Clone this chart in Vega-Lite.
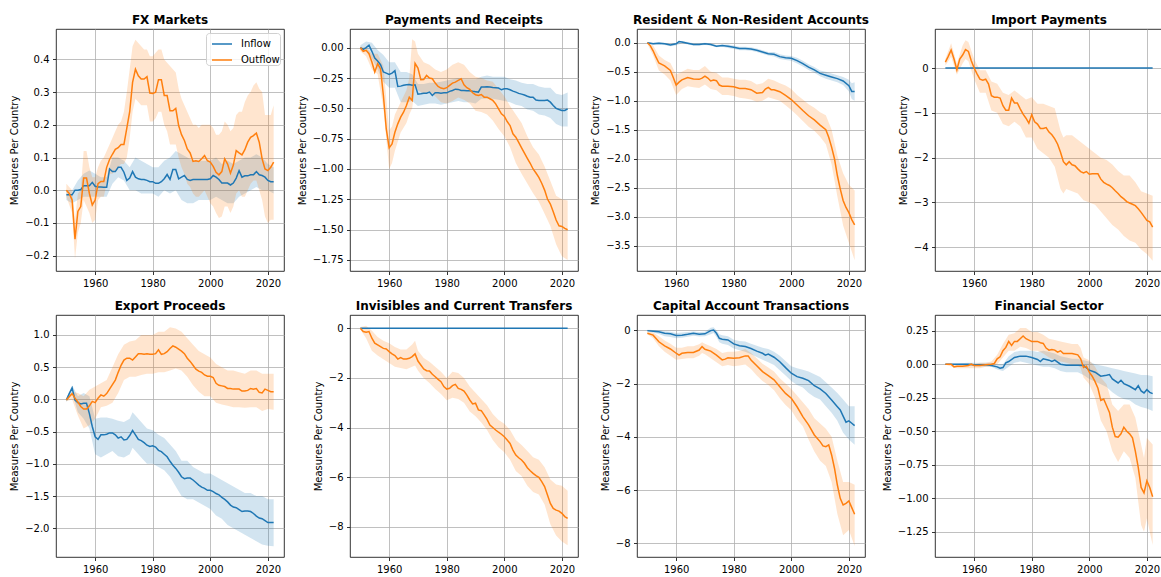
{
"$schema": "https://vega.github.io/schema/vega-lite/v6.json",
"padding": {"left": 9, "top": 13, "right": 0, "bottom": 0},
"data": {"values": [
{"p":"fx","x":1950,"a":-0.014,"al":-0.03,"ah":0,"b":0,"bl":-0.02,"bh":0.02},
{"p":"fx","x":1951,"a":-0.014,"b":-0.01},
{"p":"fx","x":1952,"a":-0.014,"al":-0.04,"ah":0,"b":-0.03,"bl":-0.07,"bh":0},
{"p":"fx","x":1953,"a":0,"b":-0.15,"bl":-0.21,"bh":-0.09},
{"p":"fx","x":1954,"a":0,"al":-0.03,"ah":0.03,"b":-0.065,"bl":-0.13,"bh":-0.01},
{"p":"fx","x":1955,"a":0.002,"b":-0.05,"bl":-0.1,"bh":0},
{"p":"fx","x":1956,"a":0.014,"al":-0.02,"ah":0.05,"b":0.037,"bl":-0.03,"bh":0.12},
{"p":"fx","x":1957,"a":0.014,"b":0.037,"bl":-0.05,"bh":0.12},
{"p":"fx","x":1958,"a":0.014,"al":-0.02,"ah":0.06,"b":-0.01,"bl":-0.07,"bh":0.07},
{"p":"fx","x":1959,"a":0.024,"b":-0.045,"bl":-0.1,"bh":0.04},
{"p":"fx","x":1960,"a":0.012,"al":-0.02,"ah":0.05,"b":-0.03,"bl":-0.09,"bh":0.04},
{"p":"fx","x":1961,"a":0.01,"b":0.02,"bl":-0.03,"bh":0.07},
{"p":"fx","x":1962,"a":0.01,"al":-0.02,"ah":0.04,"b":0.027,"bl":-0.02,"bh":0.09},
{"p":"fx","x":1963,"a":0.009,"b":0.027,"bl":-0.02,"bh":0.1},
{"p":"fx","x":1964,"a":0.009,"al":-0.02,"ah":0.04,"b":0.07,"bl":0.02,"bh":0.12},
{"p":"fx","x":1965,"a":0.065,"b":0.094,"bl":0.05,"bh":0.14},
{"p":"fx","x":1966,"a":0.057,"al":0.02,"ah":0.1,"b":0.11,"bl":0.05,"bh":0.16},
{"p":"fx","x":1967,"a":0.057,"b":0.125,"bl":0.06,"bh":0.18},
{"p":"fx","x":1968,"a":0.07,"al":0.04,"ah":0.1,"b":0.13,"bl":0.07,"bh":0.2},
{"p":"fx","x":1969,"a":0.07,"b":0.14,"bl":0.08,"bh":0.21},
{"p":"fx","x":1970,"a":0.055,"al":0.03,"ah":0.09,"b":0.14,"bl":0.08,"bh":0.24},
{"p":"fx","x":1971,"a":0.03,"b":0.19,"bl":0.1,"bh":0.3},
{"p":"fx","x":1972,"a":0.037,"al":0,"ah":0.07,"b":0.24,"bl":0.16,"bh":0.37},
{"p":"fx","x":1973,"a":0.057,"b":0.33,"bl":0.24,"bh":0.44},
{"p":"fx","x":1974,"a":0.04,"al":0,"ah":0.1,"b":0.37,"bl":0.28,"bh":0.46},
{"p":"fx","x":1975,"a":0.035,"b":0.35,"bl":0.27,"bh":0.45},
{"p":"fx","x":1976,"a":0.033,"al":-0.01,"ah":0.09,"b":0.34,"bl":0.26,"bh":0.44},
{"p":"fx","x":1977,"a":0.033,"b":0.34,"bl":0.26,"bh":0.43},
{"p":"fx","x":1978,"a":0.03,"al":-0.01,"ah":0.08,"b":0.347,"bl":0.26,"bh":0.43},
{"p":"fx","x":1979,"a":0.026,"b":0.297,"bl":0.21,"bh":0.41},
{"p":"fx","x":1980,"a":0.026,"al":-0.01,"ah":0.07,"b":0.296,"bl":0.21,"bh":0.41},
{"p":"fx","x":1981,"a":0.021,"b":0.3,"bl":0.22,"bh":0.42},
{"p":"fx","x":1982,"a":0.021,"al":-0.02,"ah":0.07,"b":0.338,"bl":0.24,"bh":0.43},
{"p":"fx","x":1983,"a":0.026,"b":0.338,"bl":0.24,"bh":0.43},
{"p":"fx","x":1984,"a":0.035,"al":0,"ah":0.09,"b":0.29,"bl":0.2,"bh":0.4},
{"p":"fx","x":1985,"a":0.048,"b":0.29,"bl":0.18,"bh":0.39},
{"p":"fx","x":1986,"a":0.033,"al":-0.01,"ah":0.1,"b":0.243,"bl":0.14,"bh":0.38},
{"p":"fx","x":1987,"a":0.063,"b":0.243,"bl":0.14,"bh":0.37},
{"p":"fx","x":1988,"a":0.063,"al":0,"ah":0.12,"b":0.25,"bl":0.14,"bh":0.36},
{"p":"fx","x":1989,"a":0.035,"b":0.198,"bl":0.1,"bh":0.31},
{"p":"fx","x":1990,"a":0.04,"al":-0.03,"ah":0.11,"b":0.17,"bl":0.07,"bh":0.28},
{"p":"fx","x":1991,"a":0.045,"b":0.152,"bl":0.05,"bh":0.26},
{"p":"fx","x":1992,"a":0.033,"al":-0.04,"ah":0.1,"b":0.126,"bl":0.02,"bh":0.24},
{"p":"fx","x":1993,"a":0.03,"b":0.114,"bl":0.01,"bh":0.22},
{"p":"fx","x":1994,"a":0.033,"al":-0.04,"ah":0.09,"b":0.088,"bl":-0.01,"bh":0.2},
{"p":"fx","x":1995,"a":0.033,"b":0.09,"bl":-0.02,"bh":0.2},
{"p":"fx","x":1996,"a":0.033,"al":-0.03,"ah":0.09,"b":0.088,"bl":-0.02,"bh":0.19},
{"p":"fx","x":1997,"a":0.033,"b":0.096,"bl":-0.01,"bh":0.2},
{"p":"fx","x":1998,"a":0.033,"al":-0.03,"ah":0.09,"b":0.106,"bl":0,"bh":0.2},
{"p":"fx","x":1999,"a":0.033,"b":0.09,"bl":-0.02,"bh":0.2},
{"p":"fx","x":2000,"a":0.035,"al":-0.03,"ah":0.09,"b":0.086,"bl":-0.04,"bh":0.2},
{"p":"fx","x":2001,"a":0.045,"b":0.073,"bl":-0.05,"bh":0.19},
{"p":"fx","x":2002,"a":0.04,"al":-0.02,"ah":0.1,"b":0.055,"bl":-0.07,"bh":0.17},
{"p":"fx","x":2003,"a":0.033,"b":0.047,"bl":-0.085,"bh":0.17},
{"p":"fx","x":2004,"a":0.022,"al":-0.03,"ah":0.08,"b":0.057,"bl":-0.08,"bh":0.18},
{"p":"fx","x":2005,"a":0.022,"b":0.096,"bl":-0.05,"bh":0.21},
{"p":"fx","x":2006,"a":0.022,"al":-0.04,"ah":0.09,"b":0.08,"bl":-0.05,"bh":0.2},
{"p":"fx","x":2007,"a":0.016,"b":0.052,"bl":-0.07,"bh":0.18},
{"p":"fx","x":2008,"a":0.022,"al":-0.04,"ah":0.08,"b":0.077,"bl":-0.05,"bh":0.19},
{"p":"fx","x":2009,"a":0.037,"b":0.121,"bl":-0.01,"bh":0.23},
{"p":"fx","x":2010,"a":0.06,"al":-0.02,"ah":0.09,"b":0.114,"bl":0,"bh":0.24},
{"p":"fx","x":2011,"a":0.04,"b":0.108,"bl":-0.02,"bh":0.24},
{"p":"fx","x":2012,"a":0.044,"al":-0.01,"ah":0.1,"b":0.124,"bl":-0.02,"bh":0.27},
{"p":"fx","x":2013,"a":0.044,"b":0.147,"bl":0,"bh":0.29},
{"p":"fx","x":2014,"a":0.047,"al":0,"ah":0.1,"b":0.162,"bl":0.02,"bh":0.3},
{"p":"fx","x":2015,"a":0.047,"b":0.167,"bl":0.03,"bh":0.32},
{"p":"fx","x":2016,"a":0.057,"al":0.01,"ah":0.11,"b":0.175,"bl":0.03,"bh":0.33},
{"p":"fx","x":2017,"a":0.047,"b":0.147,"bl":0,"bh":0.31},
{"p":"fx","x":2018,"a":0.045,"al":0,"ah":0.1,"b":0.096,"bl":-0.03,"bh":0.3},
{"p":"fx","x":2019,"a":0.04,"b":0.065,"bl":-0.08,"bh":0.23},
{"p":"fx","x":2020,"a":0.03,"al":0,"ah":0.08,"b":0.06,"bl":-0.1,"bh":0.23},
{"p":"fx","x":2021,"a":0.026,"b":0.07,"bl":-0.09,"bh":0.23},
{"p":"fx","x":2022,"a":0.026,"al":-0.01,"ah":0.07,"b":0.086,"bl":-0.09,"bh":0.26},

{"p":"pr","x":1950,"a":0,"al":-0.02,"ah":0.02,"b":0,"bl":-0.03,"bh":0.01},
{"p":"pr","x":1951,"a":-0.014,"b":-0.03},
{"p":"pr","x":1952,"a":0,"al":-0.03,"ah":0.05,"b":-0.022,"bl":-0.07,"bh":0},
{"p":"pr","x":1953,"a":0.02,"b":-0.05},
{"p":"pr","x":1954,"a":-0.03,"al":-0.09,"ah":0.04,"b":-0.118,"bl":-0.18,"bh":-0.05},
{"p":"pr","x":1955,"a":-0.085,"b":-0.2},
{"p":"pr","x":1956,"a":-0.11,"al":-0.18,"ah":-0.02,"b":-0.132,"bl":-0.22,"bh":-0.05},
{"p":"pr","x":1957,"a":-0.14,"b":-0.174},
{"p":"pr","x":1958,"a":-0.2,"al":-0.28,"ah":-0.06,"b":-0.394,"bl":-0.5,"bh":-0.15},
{"p":"pr","x":1959,"a":-0.21,"b":-0.67},
{"p":"pr","x":1960,"a":-0.22,"al":-0.33,"ah":-0.12,"b":-0.826,"bl":-1.0,"bh":-0.68},
{"p":"pr","x":1961,"a":-0.21,"b":-0.793,"bl":-0.95,"bh":-0.65},
{"p":"pr","x":1962,"a":-0.19,"al":-0.33,"ah":-0.12,"b":-0.697,"bl":-0.85,"bh":-0.55},
{"p":"pr","x":1963,"a":-0.32,"b":-0.628},
{"p":"pr","x":1964,"a":-0.317,"al":-0.45,"ah":-0.2,"b":-0.573,"bl":-0.7,"bh":-0.45},
{"p":"pr","x":1965,"a":-0.31,"b":-0.532},
{"p":"pr","x":1966,"a":-0.306,"al":-0.45,"ah":-0.2,"b":-0.477,"bl":-0.62,"bh":-0.35},
{"p":"pr","x":1967,"a":-0.303,"b":-0.408,"bl":-0.55,"bh":-0.25},
{"p":"pr","x":1968,"a":-0.31,"al":-0.44,"ah":-0.22,"b":-0.435,"bl":-0.5,"bh":0.07},
{"p":"pr","x":1969,"a":-0.306,"b":-0.13,"bl":-0.32,"bh":0.05},
{"p":"pr","x":1970,"a":-0.383,"al":-0.48,"ah":-0.3,"b":-0.168,"bl":-0.35,"bh":-0.05},
{"p":"pr","x":1971,"a":-0.38,"b":-0.264},
{"p":"pr","x":1972,"a":-0.375,"al":-0.47,"ah":-0.3,"b":-0.262,"bl":-0.38,"bh":-0.12},
{"p":"pr","x":1973,"a":-0.375,"b":-0.229},
{"p":"pr","x":1974,"a":-0.366,"al":-0.46,"ah":-0.29,"b":-0.25,"bl":-0.36,"bh":-0.14},
{"p":"pr","x":1975,"a":-0.394,"b":-0.256},
{"p":"pr","x":1976,"a":-0.372,"al":-0.46,"ah":-0.29,"b":-0.292,"bl":-0.4,"bh":-0.18},
{"p":"pr","x":1977,"a":-0.372,"b":-0.32},
{"p":"pr","x":1978,"a":-0.375,"al":-0.47,"ah":-0.28,"b":-0.333,"bl":-0.45,"bh":-0.2},
{"p":"pr","x":1979,"a":-0.372,"b":-0.339},
{"p":"pr","x":1980,"a":-0.372,"al":-0.46,"ah":-0.27,"b":-0.33,"bl":-0.46,"bh":-0.18},
{"p":"pr","x":1981,"a":-0.36,"b":-0.311},
{"p":"pr","x":1982,"a":-0.353,"al":-0.45,"ah":-0.26,"b":-0.292,"bl":-0.44,"bh":-0.14},
{"p":"pr","x":1983,"a":-0.342,"b":-0.284},
{"p":"pr","x":1984,"a":-0.344,"al":-0.44,"ah":-0.25,"b":-0.27,"bl":-0.41,"bh":-0.12},
{"p":"pr","x":1985,"a":-0.353,"b":-0.256},
{"p":"pr","x":1986,"a":-0.353,"al":-0.45,"ah":-0.26,"b":-0.306,"bl":-0.43,"bh":-0.14},
{"p":"pr","x":1987,"a":-0.355,"b":-0.33},
{"p":"pr","x":1988,"a":-0.355,"al":-0.45,"ah":-0.26,"b":-0.344,"bl":-0.46,"bh":-0.2},
{"p":"pr","x":1989,"a":-0.36,"b":-0.372},
{"p":"pr","x":1990,"a":-0.363,"al":-0.46,"ah":-0.26,"b":-0.388,"bl":-0.52,"bh":-0.24},
{"p":"pr","x":1991,"a":-0.366,"b":-0.394},
{"p":"pr","x":1992,"a":-0.325,"al":-0.42,"ah":-0.24,"b":-0.386,"bl":-0.53,"bh":-0.25},
{"p":"pr","x":1993,"a":-0.325,"b":-0.408},
{"p":"pr","x":1994,"a":-0.322,"al":-0.42,"ah":-0.23,"b":-0.408,"bl":-0.55,"bh":-0.27},
{"p":"pr","x":1995,"a":-0.325,"b":-0.421},
{"p":"pr","x":1996,"a":-0.328,"al":-0.42,"ah":-0.24,"b":-0.435,"bl":-0.6,"bh":-0.28},
{"p":"pr","x":1997,"a":-0.33,"b":-0.463},
{"p":"pr","x":1998,"a":-0.333,"al":-0.43,"ah":-0.24,"b":-0.504,"bl":-0.67,"bh":-0.34},
{"p":"pr","x":1999,"a":-0.347,"b":-0.545},
{"p":"pr","x":2000,"a":-0.339,"al":-0.44,"ah":-0.24,"b":-0.565,"bl":-0.73,"bh":-0.4},
{"p":"pr","x":2001,"a":-0.339,"b":-0.609},
{"p":"pr","x":2002,"a":-0.347,"al":-0.45,"ah":-0.26,"b":-0.642,"bl":-0.82,"bh":-0.48},
{"p":"pr","x":2003,"a":-0.358,"b":-0.71},
{"p":"pr","x":2004,"a":-0.366,"al":-0.47,"ah":-0.27,"b":-0.738,"bl":-0.95,"bh":-0.55},
{"p":"pr","x":2005,"a":-0.377,"b":-0.78},
{"p":"pr","x":2006,"a":-0.383,"al":-0.48,"ah":-0.29,"b":-0.826,"bl":-1.04,"bh":-0.62},
{"p":"pr","x":2007,"a":-0.39,"b":-0.87},
{"p":"pr","x":2008,"a":-0.4,"al":-0.51,"ah":-0.3,"b":-0.912,"bl":-1.12,"bh":-0.73},
{"p":"pr","x":2009,"a":-0.408,"b":-0.953},
{"p":"pr","x":2010,"a":-0.408,"al":-0.52,"ah":-0.3,"b":-1.0,"bl":-1.2,"bh":-0.82},
{"p":"pr","x":2011,"a":-0.432,"b":-1.033},
{"p":"pr","x":2012,"a":-0.435,"al":-0.55,"ah":-0.32,"b":-1.069,"bl":-1.27,"bh":-0.88},
{"p":"pr","x":2013,"a":-0.435,"b":-1.118},
{"p":"pr","x":2014,"a":-0.435,"al":-0.56,"ah":-0.33,"b":-1.174,"bl":-1.37,"bh":-0.98},
{"p":"pr","x":2015,"a":-0.432,"b":-1.248},
{"p":"pr","x":2016,"a":-0.449,"al":-0.58,"ah":-0.33,"b":-1.289,"bl":-1.47,"bh":-1.1},
{"p":"pr","x":2017,"a":-0.477,"b":-1.353},
{"p":"pr","x":2018,"a":-0.5,"al":-0.63,"ah":-0.38,"b":-1.421,"bl":-1.62,"bh":-1.22},
{"p":"pr","x":2019,"a":-0.51,"b":-1.468},
{"p":"pr","x":2020,"a":-0.518,"al":-0.65,"ah":-0.39,"b":-1.474,"bl":-1.72,"bh":-1.25},
{"p":"pr","x":2021,"a":-0.518,"b":-1.49},
{"p":"pr","x":2022,"a":-0.504,"al":-0.65,"ah":-0.37,"b":-1.501,"bl":-1.75,"bh":-1.26},

{"p":"rn","x":1950,"a":0,"al":-0.01,"ah":0.01,"b":0,"bl":-0.02,"bh":0},
{"p":"rn","x":1951,"b":-0.05},
{"p":"rn","x":1952,"a":-0.02,"al":-0.04,"ah":0,"b":-0.14,"bl":-0.22,"bh":-0.05},
{"p":"rn","x":1953,"b":-0.25},
{"p":"rn","x":1954,"a":-0.01,"al":-0.03,"ah":0.01,"b":-0.35,"bl":-0.48,"bh":-0.22},
{"p":"rn","x":1956,"a":-0.02,"al":-0.04,"ah":0,"b":-0.4,"bl":-0.55,"bh":-0.3},
{"p":"rn","x":1958,"a":-0.04,"al":-0.06,"ah":-0.02,"b":-0.48,"bl":-0.65,"bh":-0.35},
{"p":"rn","x":1959,"b":-0.6},
{"p":"rn","x":1960,"a":-0.02,"al":-0.05,"ah":0,"b":-0.73,"bl":-0.9,"bh":-0.55},
{"p":"rn","x":1961,"a":0.02,"b":-0.68},
{"p":"rn","x":1962,"a":0.01,"al":-0.01,"ah":0.03,"b":-0.64,"bl":-0.8,"bh":-0.5},
{"p":"rn","x":1964,"a":-0.01,"al":-0.03,"ah":0.01,"b":-0.6,"bl":-0.75,"bh":-0.45},
{"p":"rn","x":1966,"a":-0.03,"al":-0.05,"ah":-0.01,"b":-0.626,"bl":-0.77,"bh":-0.47},
{"p":"rn","x":1968,"a":-0.03,"al":-0.05,"ah":-0.01,"b":-0.632,"bl":-0.78,"bh":-0.47},
{"p":"rn","x":1969,"b":-0.61},
{"p":"rn","x":1970,"a":-0.02,"al":-0.04,"ah":0,"b":-0.575,"bl":-0.72,"bh":-0.4},
{"p":"rn","x":1971,"b":-0.61},
{"p":"rn","x":1972,"a":-0.03,"al":-0.05,"ah":-0.01,"b":-0.66,"bl":-0.8,"bh":-0.5},
{"p":"rn","x":1973,"b":-0.645},
{"p":"rn","x":1974,"a":-0.06,"al":-0.08,"ah":-0.04,"b":-0.655,"bl":-0.82,"bh":-0.52},
{"p":"rn","x":1975,"b":-0.73},
{"p":"rn","x":1976,"a":-0.05,"al":-0.07,"ah":-0.03,"b":-0.75,"bl":-0.9,"bh":-0.6},
{"p":"rn","x":1978,"a":-0.06,"al":-0.09,"ah":-0.03,"b":-0.75,"bl":-0.9,"bh":-0.6},
{"p":"rn","x":1980,"a":-0.08,"al":-0.11,"ah":-0.05,"b":-0.76,"bl":-0.92,"bh":-0.62},
{"p":"rn","x":1982,"a":-0.1,"al":-0.13,"ah":-0.07,"b":-0.79,"bl":-0.95,"bh":-0.64},
{"p":"rn","x":1984,"a":-0.1,"al":-0.13,"ah":-0.07,"b":-0.79,"bl":-0.96,"bh":-0.64},
{"p":"rn","x":1986,"a":-0.11,"al":-0.14,"ah":-0.08,"b":-0.81,"bl":-0.98,"bh":-0.66},
{"p":"rn","x":1988,"a":-0.13,"al":-0.16,"ah":-0.1,"b":-0.87,"bl":-1.02,"bh":-0.72},
{"p":"rn","x":1990,"a":-0.16,"al":-0.19,"ah":-0.13,"b":-0.86,"bl":-1.0,"bh":-0.7},
{"p":"rn","x":1991,"b":-0.8},
{"p":"rn","x":1992,"a":-0.19,"al":-0.22,"ah":-0.16,"b":-0.77,"bl":-0.94,"bh":-0.62},
{"p":"rn","x":1993,"b":-0.81},
{"p":"rn","x":1994,"a":-0.2,"al":-0.24,"ah":-0.16,"b":-0.81,"bl":-0.97,"bh":-0.65},
{"p":"rn","x":1996,"a":-0.24,"al":-0.28,"ah":-0.2,"b":-0.845,"bl":-1.0,"bh":-0.7},
{"p":"rn","x":1998,"a":-0.26,"al":-0.3,"ah":-0.22,"b":-0.91,"bl":-1.08,"bh":-0.74},
{"p":"rn","x":2000,"a":-0.27,"al":-0.31,"ah":-0.23,"b":-0.98,"bl":-1.16,"bh":-0.8},
{"p":"rn","x":2002,"a":-0.31,"al":-0.36,"ah":-0.26,"b":-1.075,"bl":-1.25,"bh":-0.9},
{"p":"rn","x":2004,"a":-0.36,"al":-0.41,"ah":-0.31,"b":-1.17,"bl":-1.35,"bh":-0.98},
{"p":"rn","x":2006,"a":-0.42,"al":-0.47,"ah":-0.37,"b":-1.26,"bl":-1.45,"bh":-1.06},
{"p":"rn","x":2008,"a":-0.47,"al":-0.52,"ah":-0.42,"b":-1.33,"bl":-1.52,"bh":-1.12},
{"p":"rn","x":2010,"a":-0.53,"al":-0.58,"ah":-0.48,"b":-1.42,"bl":-1.62,"bh":-1.2},
{"p":"rn","x":2012,"a":-0.56,"al":-0.62,"ah":-0.5,"b":-1.5,"bl":-1.75,"bh":-1.25},
{"p":"rn","x":2013,"b":-1.63},
{"p":"rn","x":2014,"a":-0.59,"al":-0.65,"ah":-0.53,"b":-1.8,"bl":-2.1,"bh":-1.5},
{"p":"rn","x":2015,"b":-2.0},
{"p":"rn","x":2016,"a":-0.62,"al":-0.68,"ah":-0.56,"b":-2.29,"bl":-2.65,"bh":-1.95},
{"p":"rn","x":2017,"b":-2.52},
{"p":"rn","x":2018,"a":-0.66,"al":-0.73,"ah":-0.59,"b":-2.72,"bl":-3.15,"bh":-2.25},
{"p":"rn","x":2019,"b":-2.84},
{"p":"rn","x":2020,"a":-0.74,"al":-0.84,"ah":-0.64,"b":-2.93,"bl":-3.45,"bh":-2.45},
{"p":"rn","x":2021,"a":-0.84,"al":-0.97,"ah":-0.7,"b":-3.05},
{"p":"rn","x":2022,"a":-0.84,"al":-1.0,"ah":-0.68,"b":-3.14,"bl":-3.75,"bh":-2.55},

{"p":"ip","x":1950,"a":0,"b":0.13,"bl":0.05,"bh":0.2},
{"p":"ip","x":1951,"b":0.26},
{"p":"ip","x":1952,"b":0.4,"bl":0.25,"bh":0.55},
{"p":"ip","x":1953,"b":0.2},
{"p":"ip","x":1954,"b":-0.04,"bl":-0.15,"bh":0.1},
{"p":"ip","x":1955,"b":0.2},
{"p":"ip","x":1956,"b":0.29,"bl":0.1,"bh":0.5},
{"p":"ip","x":1957,"b":0.41,"bl":0.2,"bh":0.62},
{"p":"ip","x":1958,"b":0.37,"bl":0.15,"bh":0.58},
{"p":"ip","x":1959,"b":0.16},
{"p":"ip","x":1960,"b":0,"bl":-0.25,"bh":0.2},
{"p":"ip","x":1961,"b":-0.13},
{"p":"ip","x":1962,"b":-0.25,"bl":-0.55,"bh":-0.05},
{"p":"ip","x":1963,"b":-0.27},
{"p":"ip","x":1964,"b":-0.25,"bl":-0.55,"bh":-0.05},
{"p":"ip","x":1965,"b":-0.36},
{"p":"ip","x":1966,"b":-0.62,"bl":-0.95,"bh":-0.3},
{"p":"ip","x":1967,"b":-0.65},
{"p":"ip","x":1968,"b":-0.65,"bl":-1.0,"bh":-0.35},
{"p":"ip","x":1969,"b":-0.67},
{"p":"ip","x":1970,"b":-0.84,"bl":-1.25,"bh":-0.55},
{"p":"ip","x":1971,"b":-0.94},
{"p":"ip","x":1972,"b":-0.94,"bl":-1.3,"bh":-0.6},
{"p":"ip","x":1973,"b":-0.67},
{"p":"ip","x":1974,"b":-0.78,"bl":-1.2,"bh":-0.5},
{"p":"ip","x":1975,"b":-0.78},
{"p":"ip","x":1976,"b":-0.91,"bl":-1.3,"bh":-0.6},
{"p":"ip","x":1977,"b":-1.03},
{"p":"ip","x":1978,"b":-1.12,"bl":-1.55,"bh":-0.7},
{"p":"ip","x":1979,"b":-1.23},
{"p":"ip","x":1980,"b":-1.04,"bl":-1.55,"bh":-0.65},
{"p":"ip","x":1981,"b":-1.2},
{"p":"ip","x":1982,"b":-1.25,"bl":-1.8,"bh":-0.8},
{"p":"ip","x":1983,"b":-1.35},
{"p":"ip","x":1984,"b":-1.35,"bl":-1.9,"bh":-0.8},
{"p":"ip","x":1985,"b":-1.33},
{"p":"ip","x":1986,"b":-1.43,"bl":-2.0,"bh":-0.85},
{"p":"ip","x":1987,"b":-1.49},
{"p":"ip","x":1988,"b":-1.58,"bl":-2.2,"bh":-0.9},
{"p":"ip","x":1989,"b":-1.7},
{"p":"ip","x":1990,"b":-1.88,"bl":-2.7,"bh":-1.4},
{"p":"ip","x":1991,"b":-2.09,"bl":-2.8,"bh":-1.55},
{"p":"ip","x":1992,"b":-2.16,"bl":-2.7,"bh":-1.5},
{"p":"ip","x":1993,"b":-2.09},
{"p":"ip","x":1994,"b":-2.16,"bl":-2.75,"bh":-1.5},
{"p":"ip","x":1995,"b":-2.18},
{"p":"ip","x":1996,"b":-2.25,"bl":-2.8,"bh":-1.6},
{"p":"ip","x":1997,"b":-2.31},
{"p":"ip","x":1998,"b":-2.34,"bl":-2.95,"bh":-1.7},
{"p":"ip","x":1999,"b":-2.31},
{"p":"ip","x":2000,"b":-2.37,"bl":-3.0,"bh":-1.8},
{"p":"ip","x":2001,"b":-2.36},
{"p":"ip","x":2002,"b":-2.36,"bl":-3.05,"bh":-1.9},
{"p":"ip","x":2003,"b":-2.36},
{"p":"ip","x":2004,"b":-2.48,"bl":-3.2,"bh":-2.0},
{"p":"ip","x":2005,"b":-2.55},
{"p":"ip","x":2006,"b":-2.59,"bl":-3.35,"bh":-2.05},
{"p":"ip","x":2007,"b":-2.62},
{"p":"ip","x":2008,"b":-2.67,"bl":-3.5,"bh":-2.15},
{"p":"ip","x":2009,"b":-2.74},
{"p":"ip","x":2010,"b":-2.8,"bl":-3.6,"bh":-2.3},
{"p":"ip","x":2011,"b":-2.87},
{"p":"ip","x":2012,"b":-2.92,"bl":-3.75,"bh":-2.4},
{"p":"ip","x":2013,"b":-2.98},
{"p":"ip","x":2014,"b":-3.01,"bl":-3.85,"bh":-2.4},
{"p":"ip","x":2015,"b":-3.04},
{"p":"ip","x":2016,"b":-3.07,"bl":-3.9,"bh":-2.55},
{"p":"ip","x":2017,"b":-3.14},
{"p":"ip","x":2018,"b":-3.22,"bl":-4.05,"bh":-2.75},
{"p":"ip","x":2019,"b":-3.31},
{"p":"ip","x":2020,"b":-3.4,"bl":-4.15,"bh":-2.8},
{"p":"ip","x":2021,"b":-3.43},
{"p":"ip","x":2022,"a":0,"b":-3.55,"bl":-4.3,"bh":-2.85},

{"p":"ep","x":1950,"a":-0.01,"al":-0.04,"ah":0.02,"b":-0.01,"bl":-0.03,"bh":0},
{"p":"ep","x":1951,"a":0.09,"b":0.04},
{"p":"ep","x":1952,"a":0.18,"al":0.1,"ah":0.22,"b":0.09,"bl":0,"bh":0.12},
{"p":"ep","x":1953,"a":-0.01,"b":0.02},
{"p":"ep","x":1954,"a":-0.05,"al":-0.2,"ah":0.05,"b":-0.04,"bl":-0.25,"bh":0.1},
{"p":"ep","x":1955,"a":-0.07,"b":-0.11},
{"p":"ep","x":1956,"a":-0.06,"al":-0.3,"ah":0.1,"b":-0.15,"bl":-0.45,"bh":0.05},
{"p":"ep","x":1957,"a":-0.06,"b":-0.15},
{"p":"ep","x":1958,"a":-0.22,"al":-0.45,"ah":0.05,"b":-0.1,"bl":-0.4,"bh":0.15},
{"p":"ep","x":1959,"a":-0.42,"b":-0.03},
{"p":"ep","x":1960,"a":-0.58,"al":-0.85,"ah":-0.3,"b":-0.05,"bl":-0.3,"bh":0.2},
{"p":"ep","x":1961,"a":-0.62,"b":0.02},
{"p":"ep","x":1962,"a":-0.55,"al":-0.9,"ah":-0.28,"b":0.07,"bl":-0.12,"bh":0.25},
{"p":"ep","x":1963,"a":-0.55,"b":0.05},
{"p":"ep","x":1964,"a":-0.54,"al":-0.85,"ah":-0.28,"b":0.09,"bl":-0.1,"bh":0.3},
{"p":"ep","x":1965,"a":-0.52,"b":0.16},
{"p":"ep","x":1966,"a":-0.52,"al":-0.8,"ah":-0.3,"b":0.23,"bl":-0.05,"bh":0.5},
{"p":"ep","x":1967,"a":-0.55,"b":0.3},
{"p":"ep","x":1968,"a":-0.6,"al":-0.88,"ah":-0.33,"b":0.42,"bl":0.1,"bh":0.7},
{"p":"ep","x":1969,"a":-0.58,"b":0.53},
{"p":"ep","x":1970,"a":-0.63,"al":-0.9,"ah":-0.35,"b":0.61,"bl":0.3,"bh":0.85},
{"p":"ep","x":1971,"a":-0.62,"b":0.64},
{"p":"ep","x":1972,"a":-0.56,"al":-0.85,"ah":-0.3,"b":0.64,"bl":0.35,"bh":0.9},
{"p":"ep","x":1973,"a":-0.48,"al":-0.75,"ah":-0.2,"b":0.61},
{"p":"ep","x":1974,"a":-0.55,"al":-0.8,"ah":-0.25,"b":0.66,"bl":0.35,"bh":0.92},
{"p":"ep","x":1975,"a":-0.62,"b":0.71},
{"p":"ep","x":1976,"a":-0.64,"al":-0.9,"ah":-0.35,"b":0.71,"bl":0.38,"bh":1.0},
{"p":"ep","x":1977,"a":-0.67,"b":0.7},
{"p":"ep","x":1978,"a":-0.71,"al":-1.0,"ah":-0.45,"b":0.71,"bl":0.4,"bh":1.0},
{"p":"ep","x":1979,"a":-0.73,"b":0.7},
{"p":"ep","x":1980,"a":-0.72,"al":-1.0,"ah":-0.48,"b":0.7,"bl":0.4,"bh":1.0},
{"p":"ep","x":1981,"a":-0.74,"b":0.71},
{"p":"ep","x":1982,"a":-0.79,"al":-1.05,"ah":-0.55,"b":0.77,"bl":0.42,"bh":1.05},
{"p":"ep","x":1983,"a":-0.81,"b":0.7},
{"p":"ep","x":1984,"a":-0.85,"al":-1.1,"ah":-0.6,"b":0.71,"bl":0.42,"bh":1.05},
{"p":"ep","x":1985,"a":-0.89,"b":0.74},
{"p":"ep","x":1986,"a":-0.96,"al":-1.2,"ah":-0.7,"b":0.79,"bl":0.45,"bh":1.12},
{"p":"ep","x":1987,"a":-1.02,"b":0.83},
{"p":"ep","x":1988,"a":-1.07,"al":-1.35,"ah":-0.8,"b":0.81,"bl":0.48,"bh":1.1},
{"p":"ep","x":1989,"a":-1.13,"b":0.78},
{"p":"ep","x":1990,"a":-1.2,"al":-1.5,"ah":-0.95,"b":0.75,"bl":0.45,"bh":1.05},
{"p":"ep","x":1991,"a":-1.23,"b":0.71},
{"p":"ep","x":1992,"a":-1.22,"al":-1.55,"ah":-0.95,"b":0.64,"bl":0.35,"bh":0.95},
{"p":"ep","x":1993,"a":-1.22,"b":0.59},
{"p":"ep","x":1994,"a":-1.25,"al":-1.55,"ah":-1.05,"b":0.53,"bl":0.22,"bh":0.85},
{"p":"ep","x":1995,"a":-1.29,"b":0.47},
{"p":"ep","x":1996,"a":-1.33,"al":-1.6,"ah":-1.1,"b":0.44,"bl":0.12,"bh":0.75},
{"p":"ep","x":1997,"a":-1.36,"b":0.42},
{"p":"ep","x":1998,"a":-1.38,"al":-1.65,"ah":-1.15,"b":0.38,"bl":0.05,"bh":0.7},
{"p":"ep","x":1999,"a":-1.41,"b":0.36},
{"p":"ep","x":2000,"a":-1.41,"al":-1.7,"ah":-1.15,"b":0.36,"bl":0.05,"bh":0.65},
{"p":"ep","x":2001,"a":-1.43,"b":0.34},
{"p":"ep","x":2002,"a":-1.46,"al":-1.8,"ah":-1.2,"b":0.25,"bl":-0.05,"bh":0.55},
{"p":"ep","x":2003,"a":-1.48,"b":0.22},
{"p":"ep","x":2004,"a":-1.52,"al":-1.85,"ah":-1.25,"b":0.21,"bl":-0.08,"bh":0.5},
{"p":"ep","x":2005,"a":-1.55,"b":0.2},
{"p":"ep","x":2006,"a":-1.59,"al":-1.95,"ah":-1.3,"b":0.17,"bl":-0.1,"bh":0.45},
{"p":"ep","x":2007,"a":-1.64,"b":0.17},
{"p":"ep","x":2008,"a":-1.67,"al":-2.0,"ah":-1.35,"b":0.16,"bl":-0.12,"bh":0.45},
{"p":"ep","x":2009,"a":-1.68,"b":0.16},
{"p":"ep","x":2010,"a":-1.71,"al":-2.05,"ah":-1.4,"b":0.16,"bl":-0.12,"bh":0.42},
{"p":"ep","x":2011,"a":-1.74,"b":0.13},
{"p":"ep","x":2012,"a":-1.73,"al":-2.1,"ah":-1.45,"b":0.13,"bl":-0.13,"bh":0.4},
{"p":"ep","x":2013,"a":-1.73,"b":0.14},
{"p":"ep","x":2014,"a":-1.74,"al":-2.15,"ah":-1.45,"b":0.17,"bl":-0.12,"bh":0.45},
{"p":"ep","x":2015,"a":-1.77,"b":0.16},
{"p":"ep","x":2016,"a":-1.81,"al":-2.2,"ah":-1.5,"b":0.17,"bl":-0.12,"bh":0.45},
{"p":"ep","x":2017,"a":-1.84,"b":0.11},
{"p":"ep","x":2018,"a":-1.85,"al":-2.25,"ah":-1.5,"b":0.1,"bl":-0.18,"bh":0.4},
{"p":"ep","x":2019,"a":-1.88,"b":0.16},
{"p":"ep","x":2020,"a":-1.91,"al":-2.27,"ah":-1.55,"b":0.14,"bl":-0.15,"bh":0.4},
{"p":"ep","x":2021,"a":-1.91,"b":0.12},
{"p":"ep","x":2022,"a":-1.91,"al":-2.28,"ah":-1.55,"b":0.12,"bl":-0.16,"bh":0.4},

{"p":"ic","x":1950,"a":0,"b":0,"bl":-0.05,"bh":0.05},
{"p":"ic","x":1951,"b":-0.13},
{"p":"ic","x":1952,"b":-0.16,"bl":-0.4,"bh":0.1},
{"p":"ic","x":1953,"b":-0.13},
{"p":"ic","x":1954,"b":-0.4,"bl":-0.9,"bh":-0.1},
{"p":"ic","x":1955,"b":-0.6},
{"p":"ic","x":1956,"b":-0.67,"bl":-1.1,"bh":-0.35},
{"p":"ic","x":1957,"b":-0.74},
{"p":"ic","x":1958,"b":-0.81,"bl":-1.25,"bh":-0.5},
{"p":"ic","x":1959,"b":-0.83},
{"p":"ic","x":1960,"b":-0.94,"bl":-1.4,"bh":-0.6},
{"p":"ic","x":1961,"b":-1.03},
{"p":"ic","x":1962,"b":-1.1,"bl":-1.55,"bh":-0.75},
{"p":"ic","x":1963,"b":-1.24},
{"p":"ic","x":1964,"b":-1.18,"bl":-1.6,"bh":-0.85},
{"p":"ic","x":1965,"b":-1.24},
{"p":"ic","x":1966,"b":-1.24,"bl":-1.65,"bh":-0.85},
{"p":"ic","x":1967,"b":-1.21},
{"p":"ic","x":1968,"b":-1.14,"bl":-1.55,"bh":-0.65},
{"p":"ic","x":1969,"b":-1.03,"bl":-1.5,"bh":-0.5},
{"p":"ic","x":1970,"b":-1.32,"bl":-1.7,"bh":-0.9},
{"p":"ic","x":1971,"b":-1.48},
{"p":"ic","x":1972,"b":-1.64,"bl":-2.0,"bh":-1.2},
{"p":"ic","x":1973,"b":-1.71},
{"p":"ic","x":1974,"b":-1.72,"bl":-2.2,"bh":-1.35},
{"p":"ic","x":1975,"b":-1.85},
{"p":"ic","x":1976,"b":-1.95,"bl":-2.45,"bh":-1.55},
{"p":"ic","x":1977,"b":-2.06},
{"p":"ic","x":1978,"b":-2.15,"bl":-2.65,"bh":-1.75},
{"p":"ic","x":1979,"b":-2.35},
{"p":"ic","x":1980,"b":-2.45,"bl":-2.9,"bh":-2.0},
{"p":"ic","x":1981,"b":-2.42},
{"p":"ic","x":1982,"b":-2.31,"bl":-2.8,"bh":-1.75},
{"p":"ic","x":1983,"b":-2.26},
{"p":"ic","x":1984,"b":-2.42,"bl":-2.85,"bh":-1.8},
{"p":"ic","x":1985,"b":-2.46},
{"p":"ic","x":1986,"b":-2.53,"bl":-3.0,"bh":-2.0},
{"p":"ic","x":1987,"b":-2.69},
{"p":"ic","x":1988,"b":-2.89,"bl":-3.35,"bh":-2.35},
{"p":"ic","x":1989,"b":-3.05},
{"p":"ic","x":1990,"b":-3.02,"bl":-3.55,"bh":-2.6},
{"p":"ic","x":1991,"b":-3.29},
{"p":"ic","x":1992,"b":-3.32,"bl":-3.8,"bh":-2.85},
{"p":"ic","x":1993,"b":-3.49},
{"p":"ic","x":1994,"b":-3.67,"bl":-4.1,"bh":-3.1},
{"p":"ic","x":1995,"b":-3.9},
{"p":"ic","x":1996,"b":-4.0,"bl":-4.5,"bh":-3.45},
{"p":"ic","x":1997,"b":-4.1},
{"p":"ic","x":1998,"b":-4.19,"bl":-4.8,"bh":-3.7},
{"p":"ic","x":1999,"b":-4.27},
{"p":"ic","x":2000,"b":-4.37,"bl":-5.0,"bh":-3.85},
{"p":"ic","x":2001,"b":-4.5},
{"p":"ic","x":2002,"b":-4.64,"bl":-5.3,"bh":-4.1},
{"p":"ic","x":2003,"b":-4.91},
{"p":"ic","x":2004,"b":-5.11,"bl":-5.75,"bh":-4.5},
{"p":"ic","x":2005,"b":-5.22},
{"p":"ic","x":2006,"b":-5.31,"bl":-5.95,"bh":-4.7},
{"p":"ic","x":2007,"b":-5.44},
{"p":"ic","x":2008,"b":-5.62,"bl":-6.35,"bh":-4.95},
{"p":"ic","x":2009,"b":-5.74},
{"p":"ic","x":2010,"b":-5.85,"bl":-6.6,"bh":-5.2},
{"p":"ic","x":2011,"b":-5.94},
{"p":"ic","x":2012,"b":-6.01,"bl":-6.7,"bh":-5.3},
{"p":"ic","x":2013,"b":-6.18},
{"p":"ic","x":2014,"b":-6.38,"bl":-7.1,"bh":-5.6},
{"p":"ic","x":2015,"b":-6.72},
{"p":"ic","x":2016,"b":-7.06,"bl":-7.9,"bh":-6.1},
{"p":"ic","x":2017,"b":-7.26},
{"p":"ic","x":2018,"b":-7.33,"bl":-8.35,"bh":-6.3},
{"p":"ic","x":2019,"b":-7.37},
{"p":"ic","x":2020,"b":-7.46,"bl":-8.6,"bh":-6.35},
{"p":"ic","x":2021,"b":-7.59},
{"p":"ic","x":2022,"a":0,"b":-7.66,"bl":-8.75,"bh":-6.55},

{"p":"ca","x":1950,"a":-0.01,"al":-0.04,"ah":0.02,"b":-0.11,"bl":-0.15,"bh":-0.05},
{"p":"ca","x":1952,"a":-0.03,"al":-0.08,"ah":0.01,"b":-0.18,"bl":-0.3,"bh":-0.08},
{"p":"ca","x":1954,"a":-0.05,"al":-0.14,"ah":0,"b":-0.43,"bl":-0.6,"bh":-0.22},
{"p":"ca","x":1956,"a":-0.11,"al":-0.22,"ah":-0.03,"b":-0.58,"bl":-0.8,"bh":-0.38},
{"p":"ca","x":1958,"a":-0.13,"al":-0.25,"ah":-0.05,"b":-0.7,"bl":-0.95,"bh":-0.5},
{"p":"ca","x":1960,"a":-0.19,"al":-0.3,"ah":-0.1,"b":-0.86,"bl":-1.1,"bh":-0.65},
{"p":"ca","x":1961,"b":-0.93},
{"p":"ca","x":1962,"a":-0.18,"al":-0.28,"ah":-0.08,"b":-0.86,"bl":-1.08,"bh":-0.65},
{"p":"ca","x":1964,"a":-0.15,"al":-0.24,"ah":-0.06,"b":-0.83,"bl":-1.05,"bh":-0.6},
{"p":"ca","x":1966,"a":-0.11,"al":-0.2,"ah":-0.04,"b":-0.83,"bl":-1.05,"bh":-0.6},
{"p":"ca","x":1968,"a":-0.15,"al":-0.23,"ah":-0.06,"b":-0.74,"bl":-0.95,"bh":-0.52},
{"p":"ca","x":1969,"b":-0.61,"bl":-0.85,"bh":-0.45},
{"p":"ca","x":1970,"a":-0.13,"al":-0.22,"ah":-0.05,"b":-0.71,"bl":-0.9,"bh":-0.5},
{"p":"ca","x":1972,"a":-0.01,"al":-0.15,"ah":0.1,"b":-0.78,"bl":-1.05,"bh":-0.6},
{"p":"ca","x":1973,"a":0.01,"al":-0.1,"ah":0.12},
{"p":"ca","x":1974,"a":-0.11,"al":-0.25,"ah":0,"b":-0.93,"bl":-1.2,"bh":-0.7},
{"p":"ca","x":1975,"a":-0.3,"al":-0.45,"ah":-0.15},
{"p":"ca","x":1976,"a":-0.33,"al":-0.5,"ah":-0.18,"b":-1.11,"bl":-1.35,"bh":-0.85},
{"p":"ca","x":1977,"b":-1.08},
{"p":"ca","x":1978,"a":-0.36,"al":-0.55,"ah":-0.22,"b":-1.03,"bl":-1.3,"bh":-0.8},
{"p":"ca","x":1980,"a":-0.51,"al":-0.68,"ah":-0.35,"b":-1.05,"bl":-1.35,"bh":-0.8},
{"p":"ca","x":1982,"a":-0.58,"al":-0.75,"ah":-0.4,"b":-1.03,"bl":-1.32,"bh":-0.78},
{"p":"ca","x":1984,"a":-0.61,"al":-0.8,"ah":-0.42,"b":-0.96,"bl":-1.28,"bh":-0.7},
{"p":"ca","x":1985,"b":-0.96},
{"p":"ca","x":1986,"a":-0.68,"al":-0.9,"ah":-0.5,"b":-1.11,"bl":-1.45,"bh":-0.85},
{"p":"ca","x":1988,"a":-0.78,"al":-1.0,"ah":-0.58,"b":-1.33,"bl":-1.7,"bh":-1.05},
{"p":"ca","x":1990,"a":-0.86,"al":-1.1,"ah":-0.65,"b":-1.55,"bl":-1.9,"bh":-1.25},
{"p":"ca","x":1991,"a":-0.93},
{"p":"ca","x":1992,"a":-0.89,"al":-1.2,"ah":-0.7,"b":-1.7,"bl":-2.05,"bh":-1.4},
{"p":"ca","x":1994,"a":-1.01,"al":-1.3,"ah":-0.8,"b":-1.86,"bl":-2.25,"bh":-1.55},
{"p":"ca","x":1996,"a":-1.18,"al":-1.5,"ah":-0.95,"b":-2.12,"bl":-2.55,"bh":-1.8},
{"p":"ca","x":1998,"a":-1.4,"al":-1.7,"ah":-1.15,"b":-2.37,"bl":-2.8,"bh":-2.0},
{"p":"ca","x":2000,"a":-1.61,"al":-1.9,"ah":-1.35,"b":-2.55,"bl":-3.0,"bh":-2.2},
{"p":"ca","x":2002,"a":-1.74,"al":-2.05,"ah":-1.42,"b":-2.87,"bl":-3.35,"bh":-2.45},
{"p":"ca","x":2004,"a":-1.8,"al":-2.15,"ah":-1.48,"b":-3.24,"bl":-3.6,"bh":-2.7},
{"p":"ca","x":2006,"a":-1.89,"al":-2.35,"ah":-1.55,"b":-3.55,"bl":-4.1,"bh":-2.95},
{"p":"ca","x":2008,"a":-2.08,"al":-2.5,"ah":-1.65,"b":-3.93,"bl":-4.55,"bh":-3.3},
{"p":"ca","x":2010,"a":-2.2,"al":-2.6,"ah":-1.75,"b":-4.18,"bl":-4.9,"bh":-3.5},
{"p":"ca","x":2011,"b":-4.34},
{"p":"ca","x":2012,"a":-2.37,"al":-2.85,"ah":-1.95,"b":-4.37,"bl":-5.1,"bh":-3.7},
{"p":"ca","x":2013,"b":-4.3},
{"p":"ca","x":2014,"a":-2.62,"al":-3.1,"ah":-2.15,"b":-4.68,"bl":-5.7,"bh":-4.0},
{"p":"ca","x":2015,"b":-5.18},
{"p":"ca","x":2016,"a":-2.87,"al":-3.4,"ah":-2.35,"b":-5.81,"bl":-6.9,"bh":-4.9},
{"p":"ca","x":2017,"a":-2.99,"b":-6.31},
{"p":"ca","x":2018,"a":-3.22,"al":-3.85,"ah":-2.6,"b":-6.56,"bl":-7.7,"bh":-5.7},
{"p":"ca","x":2019,"a":-3.45,"b":-6.5},
{"p":"ca","x":2020,"a":-3.4,"al":-4.1,"ah":-2.85,"b":-6.41,"bl":-7.5,"bh":-5.7},
{"p":"ca","x":2021,"a":-3.49,"b":-6.66},
{"p":"ca","x":2022,"a":-3.58,"al":-4.3,"ah":-2.85,"b":-6.91,"bl":-8.1,"bh":-5.8},

{"p":"fs","x":1950,"a":0,"al":-0.003,"ah":0.003,"b":0,"bl":-0.005,"bh":0.005},
{"p":"fs","x":1952,"a":0,"b":0},
{"p":"fs","x":1953,"b":-0.02},
{"p":"fs","x":1954,"a":0,"al":-0.005,"ah":0.005,"b":-0.015,"bl":-0.03,"bh":0},
{"p":"fs","x":1956,"a":0,"b":-0.015,"bl":-0.03,"bh":0},
{"p":"fs","x":1958,"a":0,"al":-0.01,"ah":0.01,"b":-0.01,"bl":-0.03,"bh":0},
{"p":"fs","x":1959,"b":0},
{"p":"fs","x":1960,"a":-0.005,"al":-0.015,"ah":0.01,"b":-0.01,"bl":-0.03,"bh":0},
{"p":"fs","x":1962,"a":-0.005,"b":-0.01,"bl":-0.03,"bh":0.01},
{"p":"fs","x":1964,"a":-0.005,"al":-0.02,"ah":0.01,"b":-0.005,"bl":-0.02,"bh":0.01},
{"p":"fs","x":1966,"a":-0.01,"al":-0.02,"ah":0.01,"b":0,"bl":-0.02,"bh":0.02},
{"p":"fs","x":1967,"b":0.005},
{"p":"fs","x":1968,"a":-0.02,"al":-0.04,"ah":0,"b":0.04,"bl":0,"bh":0.07},
{"p":"fs","x":1969,"a":-0.03,"b":0.055},
{"p":"fs","x":1970,"a":-0.025,"al":-0.05,"ah":0,"b":0.1,"bl":0.05,"bh":0.15},
{"p":"fs","x":1971,"a":0.01,"b":0.125},
{"p":"fs","x":1972,"a":0.02,"al":-0.02,"ah":0.06,"b":0.17,"bl":0.1,"bh":0.22},
{"p":"fs","x":1973,"b":0.14},
{"p":"fs","x":1974,"a":0.05,"al":0.01,"ah":0.09,"b":0.17,"bl":0.1,"bh":0.23},
{"p":"fs","x":1975,"b":0.17},
{"p":"fs","x":1976,"a":0.06,"al":0.02,"ah":0.1,"b":0.19,"bl":0.13,"bh":0.27},
{"p":"fs","x":1977,"b":0.21},
{"p":"fs","x":1978,"a":0.06,"al":0.01,"ah":0.1,"b":0.19,"bl":0.12,"bh":0.27},
{"p":"fs","x":1979,"b":0.18},
{"p":"fs","x":1980,"a":0.05,"al":0,"ah":0.1,"b":0.17,"bl":0.1,"bh":0.24},
{"p":"fs","x":1981,"b":0.17},
{"p":"fs","x":1982,"a":0.035,"al":-0.01,"ah":0.09,"b":0.17,"bl":0.1,"bh":0.24},
{"p":"fs","x":1983,"a":0.02,"b":0.16},
{"p":"fs","x":1984,"a":0.04,"al":-0.02,"ah":0.1,"b":0.155,"bl":0.08,"bh":0.22},
{"p":"fs","x":1985,"b":0.12},
{"p":"fs","x":1986,"a":0.03,"al":-0.02,"ah":0.09,"b":0.105,"bl":0.05,"bh":0.19},
{"p":"fs","x":1987,"a":0.02,"b":0.11},
{"p":"fs","x":1988,"a":0.03,"al":-0.03,"ah":0.08,"b":0.105,"bl":0.03,"bh":0.18},
{"p":"fs","x":1989,"b":0.09},
{"p":"fs","x":1990,"a":0,"al":-0.05,"ah":0.06,"b":0.1,"bl":0.02,"bh":0.17},
{"p":"fs","x":1991,"b":0.08},
{"p":"fs","x":1992,"a":-0.008,"al":-0.06,"ah":0.05,"b":0.08,"bl":0.01,"bh":0.16},
{"p":"fs","x":1994,"a":-0.008,"al":-0.06,"ah":0.04,"b":0.08,"bl":0,"bh":0.15},
{"p":"fs","x":1996,"a":-0.008,"al":-0.06,"ah":0.04,"b":0.07,"bl":0,"bh":0.15},
{"p":"fs","x":1997,"b":0.04,"bl":-0.03,"bh":0.12},
{"p":"fs","x":1998,"a":-0.01,"al":-0.08,"ah":0.03,"b":-0.025,"bl":-0.1,"bh":0.05},
{"p":"fs","x":1999,"b":-0.015},
{"p":"fs","x":2000,"a":-0.045,"al":-0.11,"ah":0.02,"b":-0.06,"bl":-0.15,"bh":0.03},
{"p":"fs","x":2001,"b":-0.09},
{"p":"fs","x":2002,"a":-0.06,"al":-0.13,"ah":0,"b":-0.13,"bl":-0.25,"bh":-0.02},
{"p":"fs","x":2003,"b":-0.18},
{"p":"fs","x":2004,"a":-0.09,"al":-0.15,"ah":-0.01,"b":-0.27,"bl":-0.42,"bh":-0.1},
{"p":"fs","x":2005,"b":-0.26},
{"p":"fs","x":2006,"a":-0.083,"al":-0.17,"ah":-0.02,"b":-0.31,"bl":-0.5,"bh":-0.15},
{"p":"fs","x":2007,"a":-0.078,"b":-0.36},
{"p":"fs","x":2008,"a":-0.11,"al":-0.21,"ah":-0.03,"b":-0.47,"bl":-0.65,"bh":-0.3},
{"p":"fs","x":2009,"b":-0.54},
{"p":"fs","x":2010,"a":-0.14,"al":-0.24,"ah":-0.04,"b":-0.545,"bl":-0.73,"bh":-0.35},
{"p":"fs","x":2011,"a":-0.12,"b":-0.52},
{"p":"fs","x":2012,"a":-0.145,"al":-0.26,"ah":-0.05,"b":-0.47,"bl":-0.65,"bh":-0.3},
{"p":"fs","x":2013,"b":-0.5},
{"p":"fs","x":2014,"a":-0.165,"al":-0.27,"ah":-0.06,"b":-0.52,"bl":-0.7,"bh":-0.3},
{"p":"fs","x":2015,"b":-0.55},
{"p":"fs","x":2016,"a":-0.19,"al":-0.3,"ah":-0.07,"b":-0.65,"bl":-0.85,"bh":-0.4},
{"p":"fs","x":2017,"a":-0.16,"b":-0.77},
{"p":"fs","x":2018,"a":-0.2,"al":-0.32,"ah":-0.08,"b":-0.92,"bl":-1.2,"bh":-0.6},
{"p":"fs","x":2019,"a":-0.215,"b":-0.96,"bl":-1.25,"bh":-0.7},
{"p":"fs","x":2020,"a":-0.19,"al":-0.33,"ah":-0.08,"b":-0.87,"bl":-1.15,"bh":-0.55},
{"p":"fs","x":2021,"a":-0.21,"b":-0.92},
{"p":"fs","x":2022,"a":-0.22,"al":-0.35,"ah":-0.09,"b":-0.99,"bl":-1.35,"bh":-0.6}
]},
"columns": 4,
"spacing": {"row": 10, "column": 11},
"resolve": {"scale": {"color": "independent"}, "legend": {"color": "independent"}},
"concat": [
{"title": "FX Markets", "width": 228, "height": 242,
 "transform": [{"filter": "datum.p == 'fx'"}],
 "encoding": {"x": {"field": "x", "type": "quantitative", "title": null, "scale": {"domain": [1946.4, 2025.6], "nice": false}, "axis": {"values": [1960, 1980, 2000, 2020], "format": "d", "tickCount": 20}}},
 "layer": [
  {"mark": {"type": "area", "fillOpacity": 0.2, "invalid": "filter"}, "encoding": {"y": {"field": "al", "type": "quantitative", "title": "Measures Per Country", "scale": {"domain": [-0.247, 0.493], "nice": false, "zero": false}, "axis": {"values": [-0.2, -0.1, 0, 0.1, 0.2, 0.3, 0.4], "format": ".1f", "tickCount": 20}}, "y2": {"field": "ah"}, "color": {"datum": "Inflow", "legend": {"title": null, "orient": "top-right", "offset": 4, "symbolType": "stroke", "symbolSize": 400, "symbolStrokeWidth": 1.5, "symbolOpacity": 1, "symbolOffset": 5, "labelFont": "DejaVu Sans", "labelFontSize": 10, "labelColor": "#000", "labelOffset": 8, "padding": 0, "rowPadding": -9, "strokeColor": "#d0d0d0", "fillColor": "rgba(255,255,255,0.8)", "cornerRadius": 3}}}},
  {"mark": {"type": "area", "fillOpacity": 0.2, "invalid": "filter"}, "encoding": {"y": {"field": "bl", "type": "quantitative", "title": "Measures Per Country"}, "y2": {"field": "bh"}, "color": {"datum": "Outflow", "legend": {"title": null, "orient": "top-right", "offset": 4, "symbolType": "stroke", "symbolSize": 400, "symbolStrokeWidth": 1.5, "symbolOpacity": 1, "symbolOffset": 5, "labelFont": "DejaVu Sans", "labelFontSize": 10, "labelColor": "#000", "labelOffset": 8, "padding": 0, "rowPadding": -9, "strokeColor": "#d0d0d0", "fillColor": "rgba(255,255,255,0.8)", "cornerRadius": 3}}}},
  {"mark": {"type": "line", "invalid": "filter"}, "encoding": {"y": {"field": "a", "type": "quantitative", "title": "Measures Per Country"}, "color": {"datum": "Inflow", "legend": {"title": null, "orient": "top-right", "offset": 4, "symbolType": "stroke", "symbolSize": 400, "symbolStrokeWidth": 1.5, "symbolOpacity": 1, "symbolOffset": 5, "labelFont": "DejaVu Sans", "labelFontSize": 10, "labelColor": "#000", "labelOffset": 8, "padding": 0, "rowPadding": -9, "strokeColor": "#d0d0d0", "fillColor": "rgba(255,255,255,0.8)", "cornerRadius": 3}}}},
  {"mark": {"type": "line", "invalid": "filter"}, "encoding": {"y": {"field": "b", "type": "quantitative", "title": "Measures Per Country"}, "color": {"datum": "Outflow", "legend": {"title": null, "orient": "top-right", "offset": 4, "symbolType": "stroke", "symbolSize": 400, "symbolStrokeWidth": 1.5, "symbolOpacity": 1, "symbolOffset": 5, "labelFont": "DejaVu Sans", "labelFontSize": 10, "labelColor": "#000", "labelOffset": 8, "padding": 0, "rowPadding": -9, "strokeColor": "#d0d0d0", "fillColor": "rgba(255,255,255,0.8)", "cornerRadius": 3}}}}
 ]},
{"title": "Payments and Receipts", "width": 228, "height": 242,
 "transform": [{"filter": "datum.p == 'pr'"}],
 "encoding": {"x": {"field": "x", "type": "quantitative", "title": null, "scale": {"domain": [1946.4, 2025.6], "nice": false}, "axis": {"values": [1960, 1980, 2000, 2020], "format": "d", "tickCount": 20}}},
 "layer": [
  {"mark": {"type": "area", "fillOpacity": 0.2, "invalid": "filter"}, "encoding": {"y": {"field": "al", "type": "quantitative", "title": "Measures Per Country", "scale": {"domain": [-1.841, 0.154], "nice": false, "zero": false}, "axis": {"values": [-1.75, -1.5, -1.25, -1, -0.75, -0.5, -0.25, 0], "format": ".2f", "tickCount": 20}}, "y2": {"field": "ah"}, "color": {"datum": "Inflow", "legend": null}}},
  {"mark": {"type": "area", "fillOpacity": 0.2, "invalid": "filter"}, "encoding": {"y": {"field": "bl", "type": "quantitative", "title": "Measures Per Country"}, "y2": {"field": "bh"}, "color": {"datum": "Outflow", "legend": null}}},
  {"mark": {"type": "line", "invalid": "filter"}, "encoding": {"y": {"field": "a", "type": "quantitative", "title": "Measures Per Country"}, "color": {"datum": "Inflow", "legend": null}}},
  {"mark": {"type": "line", "invalid": "filter"}, "encoding": {"y": {"field": "b", "type": "quantitative", "title": "Measures Per Country"}, "color": {"datum": "Outflow", "legend": null}}}
 ]},
{"title": "Resident & Non-Resident Accounts", "width": 228, "height": 242,
 "transform": [{"filter": "datum.p == 'rn'"}],
 "encoding": {"x": {"field": "x", "type": "quantitative", "title": null, "scale": {"domain": [1946.4, 2025.6], "nice": false}, "axis": {"values": [1960, 1980, 2000, 2020], "format": "d", "tickCount": 20}}},
 "layer": [
  {"mark": {"type": "area", "fillOpacity": 0.2, "invalid": "filter"}, "encoding": {"y": {"field": "al", "type": "quantitative", "title": "Measures Per Country", "scale": {"domain": [-3.936, 0.236], "nice": false, "zero": false}, "axis": {"values": [-3.5, -3, -2.5, -2, -1.5, -1, -0.5, 0], "format": ".1f", "tickCount": 20}}, "y2": {"field": "ah"}, "color": {"datum": "Inflow", "legend": null}}},
  {"mark": {"type": "area", "fillOpacity": 0.2, "invalid": "filter"}, "encoding": {"y": {"field": "bl", "type": "quantitative", "title": "Measures Per Country"}, "y2": {"field": "bh"}, "color": {"datum": "Outflow", "legend": null}}},
  {"mark": {"type": "line", "invalid": "filter"}, "encoding": {"y": {"field": "a", "type": "quantitative", "title": "Measures Per Country"}, "color": {"datum": "Inflow", "legend": null}}},
  {"mark": {"type": "line", "invalid": "filter"}, "encoding": {"y": {"field": "b", "type": "quantitative", "title": "Measures Per Country"}, "color": {"datum": "Outflow", "legend": null}}}
 ]},
{"title": "Import Payments", "width": 228, "height": 242,
 "transform": [{"filter": "datum.p == 'ip'"}],
 "encoding": {"x": {"field": "x", "type": "quantitative", "title": null, "scale": {"domain": [1946.4, 2025.6], "nice": false}, "axis": {"values": [1960, 1980, 2000, 2020], "format": "d", "tickCount": 20}}},
 "layer": [
  {"mark": {"type": "area", "fillOpacity": 0.2, "invalid": "filter"}, "encoding": {"y": {"field": "al", "type": "quantitative", "title": "Measures Per Country", "scale": {"domain": [-4.528, 0.87], "nice": false, "zero": false}, "axis": {"values": [-4, -3, -2, -1, 0], "format": "d", "tickCount": 20}}, "y2": {"field": "ah"}, "color": {"datum": "Inflow", "legend": null}}},
  {"mark": {"type": "area", "fillOpacity": 0.2, "invalid": "filter"}, "encoding": {"y": {"field": "bl", "type": "quantitative", "title": "Measures Per Country"}, "y2": {"field": "bh"}, "color": {"datum": "Outflow", "legend": null}}},
  {"mark": {"type": "line", "invalid": "filter"}, "encoding": {"y": {"field": "a", "type": "quantitative", "title": "Measures Per Country"}, "color": {"datum": "Inflow", "legend": null}}},
  {"mark": {"type": "line", "invalid": "filter"}, "encoding": {"y": {"field": "b", "type": "quantitative", "title": "Measures Per Country"}, "color": {"datum": "Outflow", "legend": null}}}
 ]},
{"title": "Export Proceeds", "width": 228, "height": 242,
 "transform": [{"filter": "datum.p == 'ep'"}],
 "encoding": {"x": {"field": "x", "type": "quantitative", "title": null, "scale": {"domain": [1946.4, 2025.6], "nice": false}, "axis": {"values": [1960, 1980, 2000, 2020], "format": "d", "tickCount": 20}}},
 "layer": [
  {"mark": {"type": "area", "fillOpacity": 0.2, "invalid": "filter"}, "encoding": {"y": {"field": "al", "type": "quantitative", "title": "Measures Per Country", "scale": {"domain": [-2.445, 1.31], "nice": false, "zero": false}, "axis": {"values": [-2, -1.5, -1, -0.5, 0, 0.5, 1], "format": ".1f", "tickCount": 20}}, "y2": {"field": "ah"}, "color": {"datum": "Inflow", "legend": null}}},
  {"mark": {"type": "area", "fillOpacity": 0.2, "invalid": "filter"}, "encoding": {"y": {"field": "bl", "type": "quantitative", "title": "Measures Per Country"}, "y2": {"field": "bh"}, "color": {"datum": "Outflow", "legend": null}}},
  {"mark": {"type": "line", "invalid": "filter"}, "encoding": {"y": {"field": "a", "type": "quantitative", "title": "Measures Per Country"}, "color": {"datum": "Inflow", "legend": null}}},
  {"mark": {"type": "line", "invalid": "filter"}, "encoding": {"y": {"field": "b", "type": "quantitative", "title": "Measures Per Country"}, "color": {"datum": "Outflow", "legend": null}}}
 ]},
{"title": "Invisibles and Current Transfers", "width": 228, "height": 242,
 "transform": [{"filter": "datum.p == 'ic'"}],
 "encoding": {"x": {"field": "x", "type": "quantitative", "title": null, "scale": {"domain": [1946.4, 2025.6], "nice": false}, "axis": {"values": [1960, 1980, 2000, 2020], "format": "d", "tickCount": 20}}},
 "layer": [
  {"mark": {"type": "area", "fillOpacity": 0.2, "invalid": "filter"}, "encoding": {"y": {"field": "al", "type": "quantitative", "title": "Measures Per Country", "scale": {"domain": [-9.22, 0.537], "nice": false, "zero": false}, "axis": {"values": [-8, -6, -4, -2, 0], "format": "d", "tickCount": 20}}, "y2": {"field": "ah"}, "color": {"datum": "Inflow", "legend": null}}},
  {"mark": {"type": "area", "fillOpacity": 0.2, "invalid": "filter"}, "encoding": {"y": {"field": "bl", "type": "quantitative", "title": "Measures Per Country"}, "y2": {"field": "bh"}, "color": {"datum": "Outflow", "legend": null}}},
  {"mark": {"type": "line", "invalid": "filter"}, "encoding": {"y": {"field": "a", "type": "quantitative", "title": "Measures Per Country"}, "color": {"datum": "Inflow", "legend": null}}},
  {"mark": {"type": "line", "invalid": "filter"}, "encoding": {"y": {"field": "b", "type": "quantitative", "title": "Measures Per Country"}, "color": {"datum": "Outflow", "legend": null}}}
 ]},
{"title": "Capital Account Transactions", "width": 228, "height": 242,
 "transform": [{"filter": "datum.p == 'ca'"}],
 "encoding": {"x": {"field": "x", "type": "quantitative", "title": null, "scale": {"domain": [1946.4, 2025.6], "nice": false}, "axis": {"values": [1960, 1980, 2000, 2020], "format": "d", "tickCount": 20}}},
 "layer": [
  {"mark": {"type": "area", "fillOpacity": 0.2, "invalid": "filter"}, "encoding": {"y": {"field": "al", "type": "quantitative", "title": "Measures Per Country", "scale": {"domain": [-8.515, 0.577], "nice": false, "zero": false}, "axis": {"values": [-8, -6, -4, -2, 0], "format": "d", "tickCount": 20}}, "y2": {"field": "ah"}, "color": {"datum": "Inflow", "legend": null}}},
  {"mark": {"type": "area", "fillOpacity": 0.2, "invalid": "filter"}, "encoding": {"y": {"field": "bl", "type": "quantitative", "title": "Measures Per Country"}, "y2": {"field": "bh"}, "color": {"datum": "Outflow", "legend": null}}},
  {"mark": {"type": "line", "invalid": "filter"}, "encoding": {"y": {"field": "a", "type": "quantitative", "title": "Measures Per Country"}, "color": {"datum": "Inflow", "legend": null}}},
  {"mark": {"type": "line", "invalid": "filter"}, "encoding": {"y": {"field": "b", "type": "quantitative", "title": "Measures Per Country"}, "color": {"datum": "Outflow", "legend": null}}}
 ]},
{"title": "Financial Sector", "width": 228, "height": 242,
 "transform": [{"filter": "datum.p == 'fs'"}],
 "encoding": {"x": {"field": "x", "type": "quantitative", "title": null, "scale": {"domain": [1946.4, 2025.6], "nice": false}, "axis": {"values": [1960, 1980, 2000, 2020], "format": "d", "tickCount": 20}}},
 "layer": [
  {"mark": {"type": "area", "fillOpacity": 0.2, "invalid": "filter"}, "encoding": {"y": {"field": "al", "type": "quantitative", "title": "Measures Per Country", "scale": {"domain": [-1.439, 0.367], "nice": false, "zero": false}, "axis": {"values": [-1.25, -1, -0.75, -0.5, -0.25, 0, 0.25], "format": ".2f", "tickCount": 20}}, "y2": {"field": "ah"}, "color": {"datum": "Inflow", "legend": null}}},
  {"mark": {"type": "area", "fillOpacity": 0.2, "invalid": "filter"}, "encoding": {"y": {"field": "bl", "type": "quantitative", "title": "Measures Per Country"}, "y2": {"field": "bh"}, "color": {"datum": "Outflow", "legend": null}}},
  {"mark": {"type": "line", "invalid": "filter"}, "encoding": {"y": {"field": "a", "type": "quantitative", "title": "Measures Per Country"}, "color": {"datum": "Inflow", "legend": null}}},
  {"mark": {"type": "line", "invalid": "filter"}, "encoding": {"y": {"field": "b", "type": "quantitative", "title": "Measures Per Country"}, "color": {"datum": "Outflow", "legend": null}}}
 ]}
],
"config": {
 "font": "DejaVu Sans",
 "background": "#ffffff",
 "view": {"stroke": "#000000", "strokeWidth": 0.8},
 "axis": {"labelFont": "DejaVu Sans", "labelFontSize": 10, "labelColor": "#000000", "titleFont": "DejaVu Sans", "titleFontSize": 10, "titleFontWeight": "normal", "titleColor": "#000000", "gridColor": "#b0b0b0", "gridWidth": 0.8, "tickColor": "#000000", "tickSize": 3.5, "tickWidth": 0.8, "domain": false, "labelPadding": 3.5, "titlePadding": 5, "labelFlush": false, "labelOverlap": false},
 "title": {"font": "DejaVu Sans", "fontSize": 12, "fontWeight": "bold", "color": "#000000", "offset": 2.5, "frame": "group", "anchor": "middle"},
 "range": {"category": ["#1f77b4", "#ff7f0e"]},
 "mark": {"invalid": "filter"},
 "line": {"strokeWidth": 1.5, "invalid": "filter"},
 "area": {"invalid": "filter"}
}
}
